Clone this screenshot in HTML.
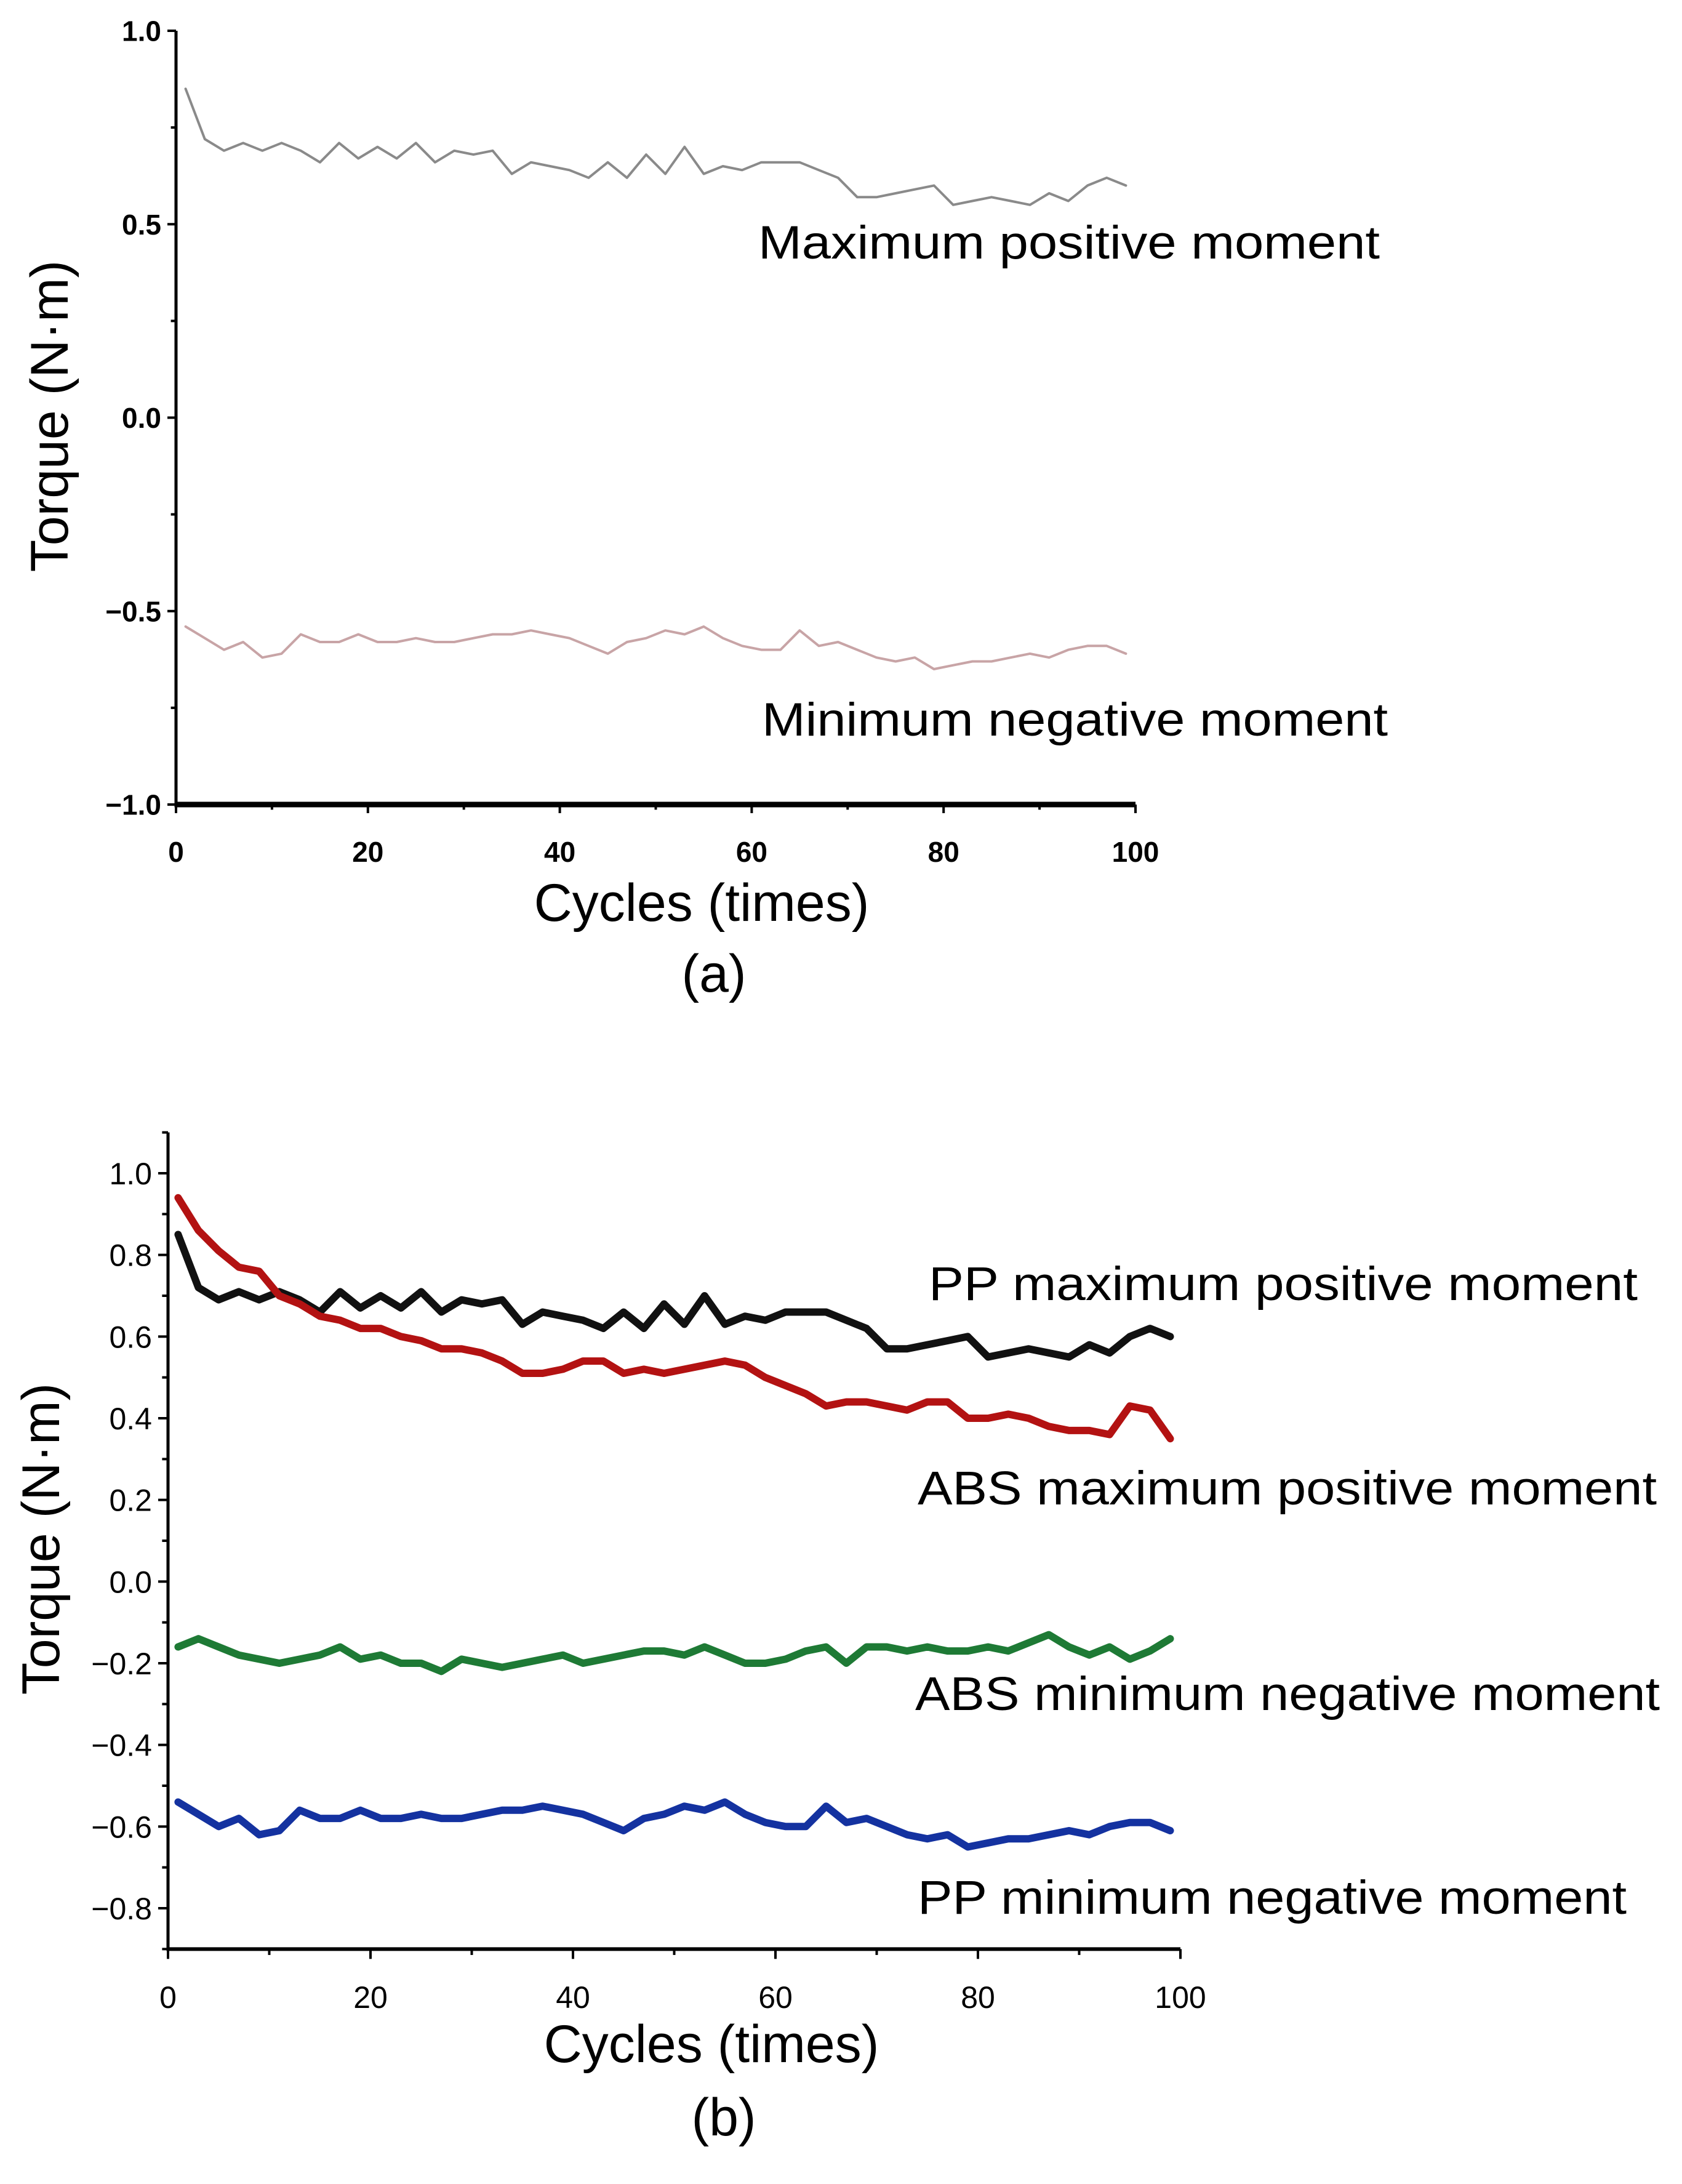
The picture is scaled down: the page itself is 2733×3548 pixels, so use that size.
<!DOCTYPE html>
<html><head><meta charset="utf-8"><style>
html,body{margin:0;padding:0;background:#fff;}
svg{display:block;font-family:"Liberation Sans",sans-serif;}
</style></head><body>
<svg id="fig" width="2733" height="3548" viewBox="0 0 2733 3548" xmlns="http://www.w3.org/2000/svg">
<g id="chartA"></g>
<g id="chartB"></g>
</svg>
<script>
const cycles=[1,3,5,7,9,11,13,15,17,19,21,23,25,27,29,31,33,35,37,39,41,43,45,47,49,51,53,55,57,59,61,63,65,67,69,71,73,75,77,79,81,83,85,87,89,91,93,95,97,99];
const ppMax=[0.85,0.72,0.69,0.71,0.69,0.71,0.69,0.66,0.71,0.67,0.70,0.67,0.71,0.66,0.69,0.68,0.69,0.63,0.66,0.65,0.64,0.62,0.66,0.62,0.68,0.63,0.70,0.63,0.65,0.64,0.66,0.66,0.66,0.64,0.62,0.57,0.57,0.58,0.59,0.60,0.55,0.56,0.57,0.56,0.55,0.58,0.56,0.60,0.62,0.60];
const absMax=[0.94,0.86,0.81,0.77,0.76,0.70,0.68,0.65,0.64,0.62,0.62,0.60,0.59,0.57,0.57,0.56,0.54,0.51,0.51,0.52,0.54,0.54,0.51,0.52,0.51,0.52,0.53,0.54,0.53,0.50,0.48,0.46,0.43,0.44,0.44,0.43,0.42,0.44,0.44,0.40,0.40,0.41,0.40,0.38,0.37,0.37,0.36,0.43,0.42,0.35];
const absMin=[-0.16,-0.14,-0.16,-0.18,-0.19,-0.20,-0.19,-0.18,-0.16,-0.19,-0.18,-0.20,-0.20,-0.22,-0.19,-0.20,-0.21,-0.20,-0.19,-0.18,-0.20,-0.19,-0.18,-0.17,-0.17,-0.18,-0.16,-0.18,-0.20,-0.20,-0.19,-0.17,-0.16,-0.20,-0.16,-0.16,-0.17,-0.16,-0.17,-0.17,-0.16,-0.17,-0.15,-0.13,-0.16,-0.18,-0.16,-0.19,-0.17,-0.14];
const ppMin=[-0.54,-0.57,-0.60,-0.58,-0.62,-0.61,-0.56,-0.58,-0.58,-0.56,-0.58,-0.58,-0.57,-0.58,-0.58,-0.57,-0.56,-0.56,-0.55,-0.56,-0.57,-0.59,-0.61,-0.58,-0.57,-0.55,-0.56,-0.54,-0.57,-0.59,-0.60,-0.60,-0.55,-0.59,-0.58,-0.60,-0.62,-0.63,-0.62,-0.65,-0.64,-0.63,-0.63,-0.62,-0.61,-0.62,-0.60,-0.59,-0.59,-0.61];
const xTicks=[0,20,40,60,80,100];
const yTicksA=[1.0,0.5,0.0,-0.5,-1.0];
const yTicksB=[1.0,0.8,0.6,0.4,0.2,0.0,-0.2,-0.4,-0.6,-0.8];

const NS="http://www.w3.org/2000/svg";
function mk(parent,tag,attrs,text){const e=document.createElementNS(NS,tag);for(const k in attrs)e.setAttribute(k,attrs[k]);if(text!==undefined)e.textContent=text;parent.appendChild(e);return e;}
function fmt(v){let s=v.toFixed(1);if(v<0)s="\u2212"+(-v).toFixed(1);if(s==="-0.0")s="0.0";return s;}

function chart(g,o){
  const sx=v=>o.x0+(v-0)/(100-0)*(o.x1-o.x0);
  const sy=v=>o.yTop+(o.vTop-v)/(o.vTop-o.vBot)*(o.yBot-o.yTop);
  const ya=mk(g,'line',{x1:o.x0,y1:sy(o.axTop),x2:o.x0,y2:sy(o.axBot),stroke:'#000','stroke-width':o.axW});
  
  const xa=mk(g,'line',{x1:o.x0-o.axW/2,y1:sy(o.axBot),x2:o.x1,y2:sy(o.axBot),stroke:'#000','stroke-width':o.xaxW});
  
  for(let v=0;v<=100;v+=10){const major=v%20===0;
    const t=mk(g,'line',{x1:sx(v),y1:sy(o.axBot),x2:sx(v),y2:sy(o.axBot)+(major?o.tickL:o.tickL*0.6),stroke:'#000','stroke-width':o.tickW});
    }
  xTicks.forEach(v=>{const t=mk(g,'text',{x:sx(v),y:o.xLabY,'font-size':o.tickFs,'text-anchor':'middle','font-weight':o.tickBold?'bold':'normal'},String(v));
    });
  for(let v=o.axBot;v<=o.axTop+1e-9;v+=o.minor){
    const isMaj=o.yTicks.some(m=>Math.abs(m-v)<1e-6);
    const t=mk(g,'line',{x1:o.x0,y1:sy(v),x2:o.x0-(isMaj?o.tickL:o.tickL*0.6),y2:sy(v),stroke:'#000','stroke-width':o.tickW});
    }
  o.yTicks.forEach(v=>{const t=mk(g,'text',{x:o.x0-o.tickL-10,y:sy(v)+o.tickFs*0.36,'font-size':o.tickFs,'text-anchor':'end','font-weight':o.tickBold?'bold':'normal'},fmt(v));
    });
  o.series.forEach(s=>{
    const d=cycles.map((c,i)=>(i?'L':'M')+sx(c).toFixed(1)+','+sy(s.vals[i]).toFixed(1)).join(' ');
    const p=mk(g,'path',{d:d,fill:'none',stroke:s.color,'stroke-width':s.w,'stroke-linejoin':'round','stroke-linecap':'round'});
    
  });
  o.labels.forEach(l=>{const t=mk(g,'text',{x:l.x,y:l.y,'font-size':o.labFs,textLength:l.w,lengthAdjust:'spacingAndGlyphs'},l.t);
    });
  const yt=mk(g,'text',{x:0,y:0,'font-size':o.titleFs,'text-anchor':'middle',transform:`translate(${o.ytX},${o.ytY}) rotate(-90)`},'Torque (N\u00b7m)');
  
  const xt=mk(g,'text',{x:o.xtX,y:o.xtY,'font-size':o.titleFs,'text-anchor':'middle'},'Cycles (times)');
  
  const pl=mk(g,'text',{x:o.xtX+20,y:o.plY,'font-size':o.titleFs,'text-anchor':'middle'},o.panel);
  
}

chart(document.getElementById('chartA'),{x0:286,x1:1845,yTop:50,yBot:1307,vTop:1.0,vBot:-1.0,axTop:1.0,axBot:-1.0,minor:0.25,
  yTicks:yTicksA,axW:5,xaxW:9,tickL:14,tickW:4,tickFs:46,tickBold:true,xLabY:1400,labFs:76,titleFs:86,
  ytX:110,ytY:676,xtX:1140,xtY:1496,plY:1611,panel:'(a)',
  series:[{name:'max-positive-moment-line',vals:ppMax,color:'#8a8a8a',w:4},{name:'min-negative-moment-line',vals:ppMin,color:'#c8a4a6',w:4}],
  labels:[{t:'Maximum positive moment',x:1232,y:420,w:1010,n:'max-positive-label'},{t:'Minimum negative moment',x:1238,y:1195,w:1017,n:'min-negative-label'}]});

chart(document.getElementById('chartB'),{x0:273,x1:1918,yTop:1906,yBot:3100,vTop:1.0,vBot:-0.8,axTop:1.1,axBot:-0.9,minor:0.1,
  yTicks:yTicksB,axW:5,xaxW:6,tickL:16,tickW:4,tickFs:50,tickBold:false,xLabY:3262,labFs:77,titleFs:86,
  ytX:96,ytY:2500,xtX:1156,xtY:3350,plY:3469,panel:'(b)',
  series:[{name:'pp-max-line',vals:ppMax,color:'#111',w:12},{name:'abs-max-line',vals:absMax,color:'#b31212',w:12},
          {name:'abs-min-line',vals:absMin,color:'#1e7a35',w:12},{name:'pp-min-line',vals:ppMin,color:'#1432a0',w:12}],
  labels:[{t:'PP maximum positive moment',x:1509,y:2112,w:1152,n:'pp-max-label'},
          {t:'ABS maximum positive moment',x:1491,y:2444,w:1201,n:'abs-max-label'},
          {t:'ABS minimum negative moment',x:1487,y:2778,w:1210,n:'abs-min-label'},
          {t:'PP minimum negative moment',x:1491,y:3109,w:1152,n:'pp-min-label'}]});
</script>
</body></html>
